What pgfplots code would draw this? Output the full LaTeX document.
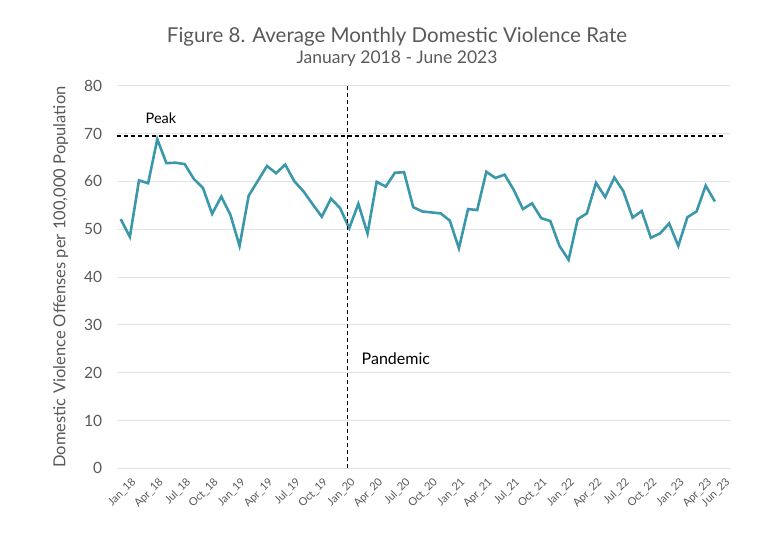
\documentclass[border=0pt]{standalone}
\usepackage{pgfplots}
\pgfplotsset{compat=1.18}
\usepackage{fontspec}
\setmainfont{Lato}
\definecolor{dvline}{HTML}{3A98AA}
\definecolor{txtgray}{HTML}{595959}
\definecolor{gridgray}{HTML}{E3E3E3}
\begin{document}
\begin{tikzpicture}[x=1bp,y=1bp]
\path[use as bounding box] (0,0) rectangle (769,557);
% titles
\node[text=txtgray,font=\fontsize{20.5bp}{24bp}\selectfont] at (397,520) {Figure 8. Average Monthly Domestic Violence Rate};
\node[text=txtgray,font=\fontsize{17.5bp}{20bp}\selectfont] at (397,498) {January 2018 - June 2023};
\begin{axis}[
  at={(116.7bp,88.7bp)}, anchor=south west,
  scale only axis, width=613.3bp, height=382.6bp,
  xmin=-0.44, xmax=66.66, ymin=0, ymax=80,
  ytick={0,10,...,80},
  xtick={0,3,...,63,65},
  xticklabels={Jan\_18,Apr\_18,Jul\_18,Oct\_18,Jan\_19,Apr\_19,Jul\_19,Oct\_19,Jan\_20,Apr\_20,Jul\_20,Oct\_20,Jan\_21,Apr\_21,Jul\_21,Oct\_21,Jan\_22,Apr\_22,Jul\_22,Oct\_22,Jan\_23,Apr\_23,Jun\_23},
  axis line style={draw=none},
  major tick length=0pt,
  ymajorgrids, grid style={gridgray, line width=0.8bp},
  /pgf/number format/assume math mode=true,
  yticklabel style={text=txtgray, font=\fontsize{15.5bp}{18bp}\selectfont, xshift=-11bp},
  xticklabel style={text=txtgray, font=\fontsize{11bp}{13bp}\selectfont, rotate=45, anchor=north east, inner sep=1bp, yshift=-12bp, xshift=2bp},
  ylabel={Domestic Violence Offenses per 100,000 Population},
  ylabel style={text=txtgray, font=\fontsize{16.5bp}{19bp}\selectfont, at={(-45bp,0.5)}, anchor=south},
  clip=false,
]
\addplot[dvline, line width=2.6bp] coordinates {
(0,52.1) (1,48.4) (2,60.2) (3,59.6) (4,68.8) (5,63.8) (6,63.9) (7,63.6)
(8,60.5) (9,58.6) (10,53.2) (11,56.8) (12,53.0) (13,46.5) (14,57.0) (15,60.1)
(16,63.2) (17,61.7) (18,63.5) (19,60.0) (20,57.9) (21,55.2) (22,52.6) (23,56.4)
(24,54.4) (25,50.2) (26,55.3) (27,49.1) (28,59.9) (29,58.9) (30,61.8) (31,61.9)
(32,54.6) (33,53.7) (34,53.5) (35,53.3) (36,51.8) (37,46.0) (38,54.2) (39,54.0)
(40,62.0) (41,60.7) (42,61.4) (43,58.2) (44,54.2) (45,55.4) (46,52.3) (47,51.7)
(48,46.5) (49,43.6) (50,52.1) (51,53.3) (52,59.7) (53,56.7) (54,60.8) (55,57.9)
(56,52.4) (57,53.8) (58,48.2) (59,49.1) (60,51.2) (61,46.5) (62,52.5) (63,53.7)
(64,59.1) (65,55.8)
};
% peak reference line
\addplot[black, line width=1.2bp, dash pattern=on 4bp off 3bp] coordinates {(-0.44,69.5) (66.1,69.5)};
% pandemic marker
\addplot[black, line width=1.2bp, dash pattern=on 4bp off 3bp] coordinates {(24.8,0) (24.8,80)};
\node[font=\fontsize{14.5bp}{17bp}\selectfont] at (axis cs:4.4,73.1) {Peak};
\node[font=\fontsize{16bp}{19bp}\selectfont] at (axis cs:30.1,22.9) {Pandemic};
\end{axis}
\end{tikzpicture}
\end{document}
